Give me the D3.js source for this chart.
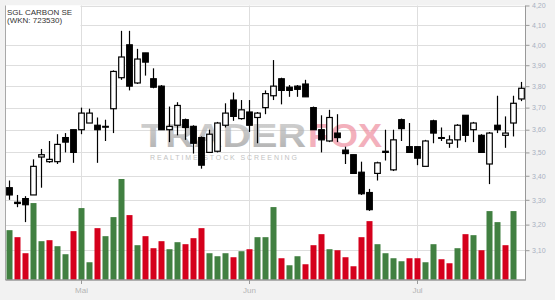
<!DOCTYPE html>
<html><head><meta charset="utf-8">
<script src="https://cdn.jsdelivr.net/npm/d3@7"></script>
<style>
html,body{margin:0;padding:0;background:#f2f2f2;}
svg{display:block;font-family:"Liberation Sans",Arial,sans-serif;}
</style>
</head><body>
<svg id="c" width="555" height="300"></svg>
<script>
// ---- data ----
const title = "SGL CARBON SE";
const subtitle = "(WKN: 723530)";
const open  = [3.35,3.29,3.305,3.32,3.48,3.46,3.46,3.565,3.60,3.60,3.63,3.62,3.615,3.695,3.84,4.00,3.815,3.96,3.835,3.80,3.60,3.62,3.645,3.615,3.565,3.50,3.505,3.62,3.735,3.65,3.68,3.655,3.70,3.755,3.835,3.795,3.80,3.81,3.70,3.60,3.55,3.585,3.51,3.49,3.415,3.33,3.41,3.50,3.425,3.645,3.525,3.525,3.44,3.64,3.565,3.54,3.555,3.665,3.60,3.575,3.45,3.62,3.575,3.63,3.74];
const high  = [3.38,3.32,3.315,3.47,3.515,3.55,3.58,3.585,3.60,3.70,3.695,3.655,3.645,3.875,4.07,4.07,3.98,3.96,3.885,3.805,3.705,3.725,3.65,3.62,3.57,3.60,3.635,3.72,3.77,3.735,3.735,3.68,3.78,3.925,3.84,3.805,3.805,3.83,3.705,3.665,3.69,3.67,3.525,3.49,3.46,3.345,3.46,3.60,3.60,3.65,3.63,3.525,3.555,3.645,3.61,3.575,3.625,3.665,3.635,3.58,3.59,3.755,3.66,3.755,3.82];
const low   = [3.30,3.27,3.21,3.32,3.35,3.455,3.45,3.50,3.455,3.58,3.63,3.455,3.55,3.585,3.83,3.78,3.81,3.85,3.79,3.60,3.545,3.575,3.555,3.495,3.43,3.50,3.50,3.61,3.64,3.645,3.59,3.54,3.67,3.735,3.715,3.75,3.75,3.75,3.60,3.50,3.545,3.545,3.45,3.41,3.32,3.255,3.38,3.465,3.42,3.55,3.50,3.445,3.44,3.54,3.55,3.52,3.52,3.545,3.545,3.50,3.365,3.585,3.52,3.57,3.73];
const close = [3.32,3.285,3.28,3.44,3.49,3.47,3.535,3.545,3.50,3.675,3.675,3.60,3.612,3.87,3.94,3.80,3.93,3.915,3.795,3.60,3.615,3.71,3.61,3.54,3.445,3.58,3.63,3.675,3.66,3.69,3.62,3.675,3.765,3.80,3.78,3.78,3.785,3.75,3.60,3.555,3.655,3.565,3.495,3.41,3.325,3.26,3.455,3.505,3.555,3.605,3.50,3.475,3.55,3.585,3.563,3.555,3.62,3.575,3.63,3.50,3.585,3.60,3.585,3.72,3.79];
const volume = [49.7,42.7,26.7,76.7,38.7,39.7,33.7,25.7,48.7,71.7,17.7,51.7,43.7,62.7,100.7,64.7,34.7,43.7,31.7,38.7,30.7,37.7,35.7,41.7,51.7,26.7,23.7,26.7,22.7,28.7,30.7,42.7,42.7,72.7,21.7,14.7,23.7,15.7,34.7,45.7,30.7,29.7,22.7,13.7,42.7,58.7,35.7,26.7,21.7,18.7,21.7,21.7,17.7,35.7,20.7,16.7,31.7,45.7,44.7,29.7,68.7,57.7,34.7,68.7,0];
const volumeUp = [1,0,0,1,1,0,1,1,0,1,1,0,1,1,1,0,1,0,0,0,1,1,0,0,0,1,1,1,0,1,0,1,1,1,0,1,1,0,0,0,1,0,0,0,0,0,1,1,1,1,0,0,1,1,0,0,1,0,1,0,1,1,0,1,1];
const priceTicks = [3.1,3.2,3.3,3.4,3.5,3.6,3.7,3.8,3.9,4.0,4.1,4.2];
const monthTickIndex = [9,30,51];
const monthTickLabels = ["Mai","Jun","Jul"];

// ---- layout ----
const L = 5.5, R = 525.5, T = 5.5, B = 280;
const svg = d3.select("#c");
const idx = d3.range(open.length);
const x = d3.scaleBand().domain(idx).range([L, R]).padding(0);
const bw = x.bandwidth();
const y = d3.scaleLog().domain([3.1, 4.2]).range([250.2, T]);
const v = d3.scaleLinear().domain([0, 100]).range([B, B - 100.3]);

// plot background
svg.append("rect").attr("x", L).attr("y", T).attr("width", R - L).attr("height", B - T).attr("fill", "#fff");

// gridlines
svg.append("g").selectAll("line").data(priceTicks).join("line")
  .attr("x1", L).attr("x2", R)
  .attr("y1", d => Math.round(y(d)) + 0.5).attr("y2", d => Math.round(y(d)) + 0.5)
  .attr("stroke", "#dedede").attr("stroke-width", 1);
svg.append("g").selectAll("line").data(monthTickIndex).join("line")
  .attr("x1", d => x(d) + bw / 2).attr("x2", d => x(d) + bw / 2)
  .attr("y1", T).attr("y2", B)
  .attr("stroke", "#dedede").attr("stroke-width", 1);

// watermark
const grad = svg.append("defs").append("linearGradient").attr("id", "wmg").attr("x1", 0).attr("x2", 0).attr("y1", 0).attr("y2", 1);
grad.append("stop").attr("offset", "0%").attr("stop-color", "#c4c4c4");
grad.append("stop").attr("offset", "100%").attr("stop-color", "#8e8e8e");
const wm = svg.append("g").attr("opacity", 0.7);
wm.append("text").attr("x", 141).attr("y", 147).attr("textLength", 165).attr("lengthAdjust", "spacingAndGlyphs")
  .attr("font-size", 33).attr("font-weight", "bold").attr("fill", "url(#wmg)").text("TRADER");
wm.append("text").attr("x", 308).attr("y", 147).attr("textLength", 74).attr("lengthAdjust", "spacingAndGlyphs")
  .attr("font-size", 33).attr("font-weight", "bold").attr("fill", "#ee8fa0").text("FOX");
wm.append("text").attr("x", 150).attr("y", 159.5).attr("textLength", 147).attr("lengthAdjust", "spacing")
  .attr("font-size", 7).attr("fill", "#a8a8a8").text("REALTIME STOCK SCREENING");

// volume bars
svg.append("g").selectAll("rect").data(idx.filter(i => volume[i] > 0)).join("rect")
  .attr("x", i => x(i) + 1).attr("width", 6)
  .attr("y", i => v(volume[i])).attr("height", i => B - v(volume[i]))
  .attr("fill", i => volumeUp[i] ? "#418041" : "#d5001c");

// title box
svg.append("rect").attr("x", L).attr("y", T).attr("width", 75).attr("height", 21).attr("fill", "#fff");
svg.append("text").attr("x", 7).attr("y", 14.8).attr("font-size", 8).attr("fill", "#333").text(title);
svg.append("text").attr("x", 7).attr("y", 22.8).attr("font-size", 8).attr("fill", "#333").text(subtitle);

// candles
const cg = svg.append("g");
cg.selectAll("line").data(idx).join("line")
  .attr("x1", i => x(i) + bw / 2).attr("x2", i => x(i) + bw / 2)
  .attr("y1", i => y(high[i])).attr("y2", i => y(low[i]))
  .attr("stroke", "#000").attr("stroke-width", 1.2);
cg.selectAll("rect").data(idx).join("rect")
  .attr("x", i => x(i) + bw / 2 - 2.8).attr("width", 5.6)
  .attr("y", i => y(Math.max(open[i], close[i])))
  .attr("height", i => Math.max(0.8, y(Math.min(open[i], close[i])) - y(Math.max(open[i], close[i]))))
  .attr("fill", i => close[i] >= open[i] ? "#fff" : "#000")
  .attr("stroke", "#000").attr("stroke-width", 1.2);

// frame
svg.append("line").attr("x1", L).attr("x2", L).attr("y1", T).attr("y2", B).attr("stroke", "#a8a8a8");
svg.append("line").attr("x1", R).attr("x2", R).attr("y1", T).attr("y2", B + 0.5).attr("stroke", "#999");
svg.append("line").attr("x1", L).attr("x2", R).attr("y1", B).attr("y2", B).attr("stroke", "#999").attr("stroke-width", 1.3);

// right axis
const ay = svg.append("g").attr("transform", `translate(${R},0)`)
  .call(d3.axisRight(y).tickValues(priceTicks).tickSize(4).tickPadding(2.5)
    .tickFormat(d => d.toFixed(2).replace(".", ",")));
ay.select(".domain").remove();
ay.selectAll(".tick line").attr("stroke", "#999");
ay.selectAll(".tick text").attr("fill", "#a9b1c1").attr("font-size", 7).attr("font-family", "Liberation Sans, Arial, sans-serif");

// bottom axis
const ax = svg.append("g").attr("transform", `translate(0,${B})`)
  .call(d3.axisBottom(x).tickValues(monthTickIndex).tickSize(4).tickPadding(3)
    .tickFormat(d => monthTickLabels[monthTickIndex.indexOf(d)]));
ax.select(".domain").remove();
ax.selectAll(".tick line").attr("stroke", "#999");
ax.selectAll(".tick text").attr("fill", "#b4b4b4").attr("font-size", 8).attr("font-family", "Liberation Sans, Arial, sans-serif");
</script>
</body></html>
